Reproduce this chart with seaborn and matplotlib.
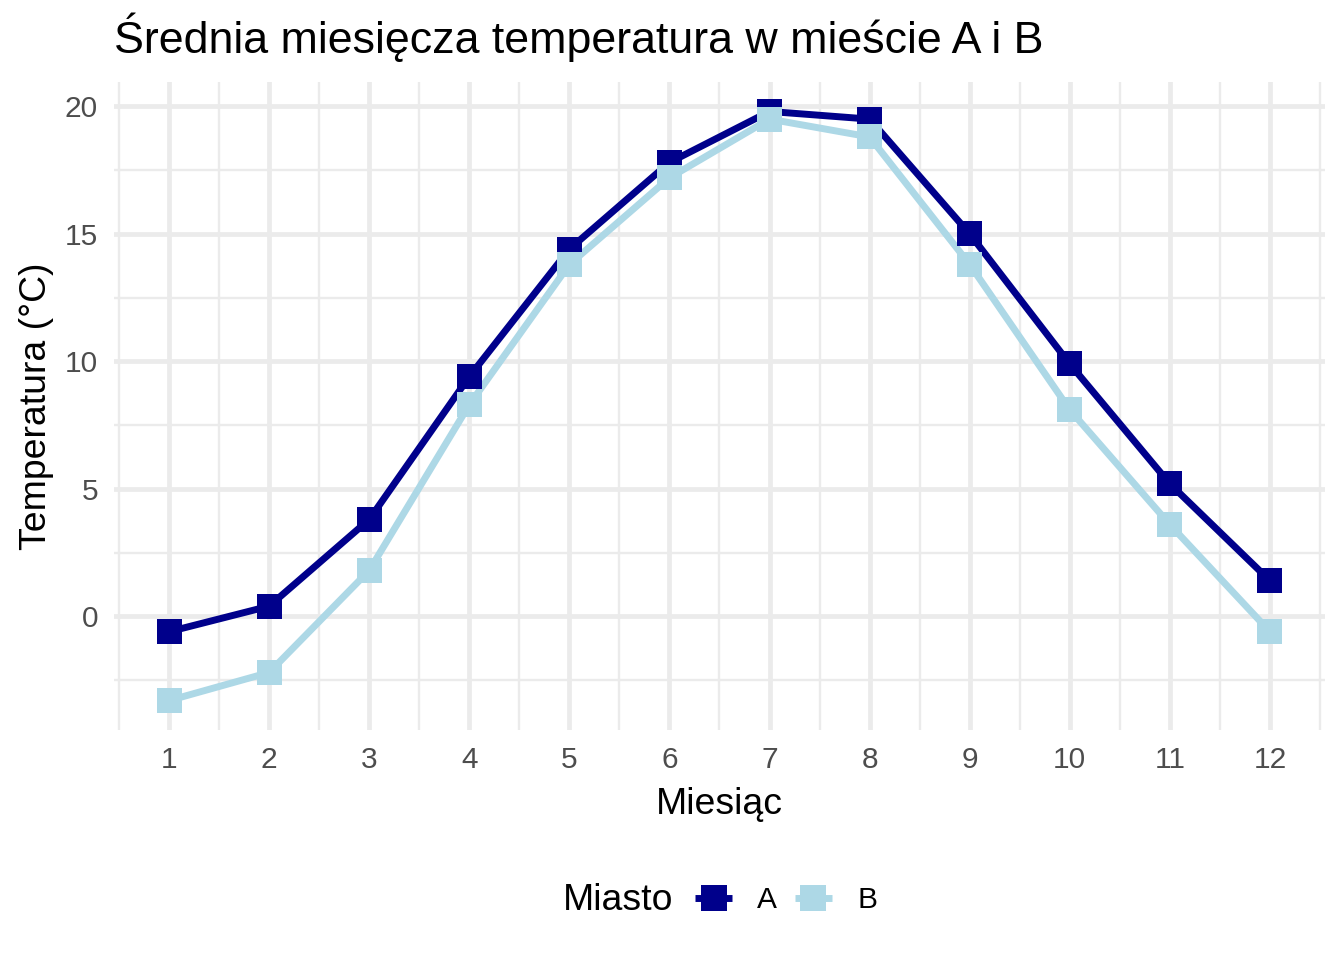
import matplotlib
matplotlib.use("Agg")
import matplotlib.pyplot as plt
from matplotlib.lines import Line2D
import seaborn as sns
import pandas as pd

months = list(range(1, 13))
temp_a = [-0.6, 0.4, 3.8, 9.4, 14.4, 17.8, 19.8, 19.5, 15.0, 9.9, 5.2, 1.4]
temp_b = [-3.3, -2.2, 1.8, 8.3, 13.8, 17.2, 19.5, 18.8, 13.8, 8.1, 3.6, -0.6]
cities = ["A", "B"]
colors = {"A": "#00008B", "B": "#ADD8E6"}

df = pd.DataFrame({
    "Miesiąc": months * 2,
    "Temperatura": temp_a + temp_b,
    "Miasto": ["A"] * 12 + ["B"] * 12,
})

sns.set_theme(style="white")
plt.rcParams["font.family"] = ["Liberation Sans", "DejaVu Sans"]
plt.rcParams["text.color"] = "black"

W, H = 1344, 960
fig = plt.figure(figsize=(7, 5), dpi=192)
ax = fig.add_axes([114 / W, 1 - 730 / H, (1325 - 114) / W, (730 - 82) / H])

grid_c = "#EBEBEB"
ymin, ymax = min(temp_a + temp_b), max(temp_a + temp_b)
pad = (ymax - ymin) * 0.05
ax.set_xlim(1 - 0.55, 12 + 0.55)
ax.set_ylim(ymin - pad, ymax + pad)
ax.set_xticks(months)
ax.set_yticks([0, 5, 10, 15, 20])
ax.set_xticks([m + 0.5 for m in range(0, 13)], minor=True)
ax.set_yticks([-2.5, 2.5, 7.5, 12.5, 17.5], minor=True)
ax.grid(True, which="major", color=grid_c, linewidth=1.8)
ax.grid(True, which="minor", color=grid_c, linewidth=0.9)
ax.set_axisbelow(True)
for s in ax.spines.values():
    s.set_visible(False)

sns.lineplot(data=df, x="Miesiąc", y="Temperatura", hue="Miasto",
             palette=colors, linewidth=2.6, legend=False, ax=ax, zorder=3)
sns.scatterplot(data=df, x="Miesiąc", y="Temperatura", hue="Miasto",
                palette=colors, marker="s", s=88, linewidth=0, legend=False,
                ax=ax, zorder=4)

ax.tick_params(axis="both", which="both", length=0, labelsize=11.2,
               labelcolor="#4D4D4D", pad=6)
ax.set_xlabel("Miesiąc", fontsize=14, color="black", labelpad=5)
ax.set_ylabel("Temperatura (°C)", fontsize=14, color="black", labelpad=4)

fig.text(114 / W, 1 - 53 / H, "Średnia miesięcza temperatura w mieście A i B",
         fontsize=16.8, ha="left", va="baseline", color="black")

# legend at bottom
fig.text(563 / W, 1 - 900 / H, "Miasto", fontsize=14, ha="left", va="center",
         color="black")
handles = [Line2D([0], [0], color=colors[c], linewidth=2.6, marker="s",
                  markersize=9.4, markeredgewidth=0, solid_capstyle="butt")
           for c in cities]
fig.legend(handles, cities, loc="center left", bbox_to_anchor=(695 / W, 1 - 900 / H),
           ncol=2, frameon=False, fontsize=11.2, handlelength=1.24,
           handletextpad=0.84, columnspacing=0.6, borderaxespad=0, borderpad=0,
           labelcolor="black")

fig.savefig("out.png", dpi=192)
